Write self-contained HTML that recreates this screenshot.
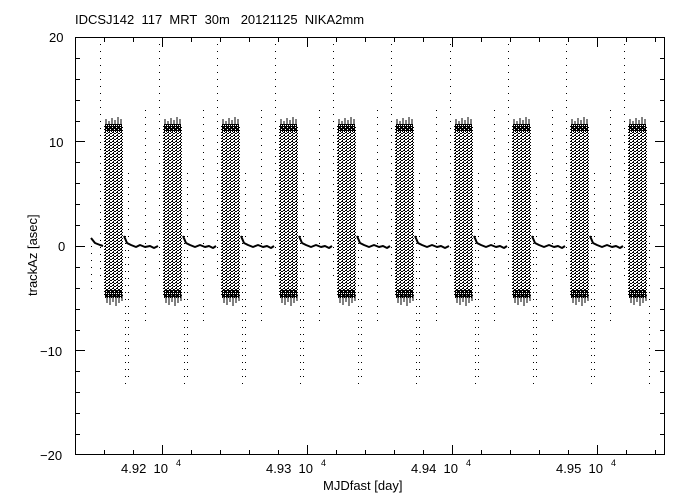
<!DOCTYPE html>
<html><head><meta charset="utf-8"><style>
html,body{margin:0;padding:0;background:#fff;width:686px;height:503px;overflow:hidden}
svg{display:block}
text{font-family:"Liberation Sans",sans-serif;font-size:13px;fill:#000}
</style></head><body>
<svg width="686" height="503" xmlns="http://www.w3.org/2000/svg">
<defs>
<pattern id="p1" width="4" height="3" patternUnits="userSpaceOnUse">
<rect x="0" y="0" width="2" height="1" fill="#000"/><rect x="2" y="1" width="2" height="1" fill="#000"/><rect x="1" y="2" width="1" height="1" fill="#000"/>
</pattern>
<pattern id="p2" width="2" height="2" patternUnits="userSpaceOnUse">
<rect x="0" y="0" width="2" height="1" fill="#000"/><rect x="1" y="1" width="1" height="1" fill="#000"/>
</pattern>
<g id="blk">
<rect x="0" y="126" width="19" height="170" fill="url(#p1)"/>
<rect x="1" y="124" width="17" height="8" fill="url(#p2)"/>
<path d="M2 124V119M5 124V121M8 124V118M11 124V120M14 124V117M17 124V119M3 294V303M6 294V305M9 294V302M12 294V306M15 294V303M18 294V301" stroke="#000" stroke-width="1"/>
<rect x="1" y="290" width="17" height="8" fill="url(#p2)"/>
</g>
</defs>
<rect x="0" y="0" width="686" height="503" fill="#fff"/>
<use href="#blk" x="104"/><use href="#blk" x="163"/><use href="#blk" x="221"/><use href="#blk" x="279"/><use href="#blk" x="337"/>
<use href="#blk" x="395"/><use href="#blk" x="454"/><use href="#blk" x="512"/><use href="#blk" x="570"/><use href="#blk" x="628"/>
<g stroke="#000" stroke-width="1" stroke-dasharray="1 6" fill="none">
<path d="M100.5 37V277M159.5 37V277M217.5 37V277M275.5 37V277M333.5 37V277M391.5 37V277M450.5 37V277M508.5 37V277M566.5 37V277M624.5 37V277"/>
<path d="M145.5 110V324M203.5 110V324M261.5 110V324M319.5 110V324M377.5 110V324M436.5 110V324M494.5 110V324M552.5 110V324M610.5 110V324"/>
<path d="M125.5 236V387M184.5 236V387M242.5 236V387M300.5 236V387M358.5 236V387M416.5 236V387M475.5 236V387M533.5 236V387M591.5 236V387M649.5 236V387"/>
<path d="M128.5 173V382M187.5 173V382M245.5 173V382M303.5 173V382M361.5 173V382M419.5 173V382M478.5 173V382M536.5 173V382M594.5 173V382"/>
<path d="M91.5 246V290"/>
</g>
<g stroke="#000" stroke-width="2" fill="none" stroke-linejoin="bevel">
<path d="M91 238L95 243L100 245L103 246"/>
<path d="M124 236L127 243L131 245L136 247L140 245L145 247L150 246L154 248L158 246"/>
<path d="M183 236L186 243L190 245L195 247L200 245L205 247L209 246L213 248L216 246"/>
<path d="M241 236L244 243L248 245L253 247L258 245L263 247L267 246L271 248L274 246"/>
<path d="M299 236L302 243L306 245L311 247L316 245L321 247L325 246L329 248L332 246"/>
<path d="M357 236L360 243L364 245L369 247L374 245L379 247L383 246L387 248L390 246"/>
<path d="M415 236L418 243L422 245L427 247L432 245L437 247L441 246L445 248L449 246"/>
<path d="M474 236L477 243L481 245L486 247L491 245L496 247L500 246L504 248L507 246"/>
<path d="M532 236L535 243L539 245L544 247L549 245L554 247L558 246L562 248L565 246"/>
<path d="M590 236L593 243L597 245L602 247L607 245L612 247L616 246L620 248L623 246"/>
</g>
<rect x="75.5" y="37.5" width="589" height="417" fill="none" stroke="#000" stroke-width="1"/>
<path stroke="#000" stroke-width="1" d="M75.5 455v-5M75.5 37v5M104.5 455v-5M104.5 37v5M133.5 455v-5M133.5 37v5M162.5 455v-10M162.5 37v10M191.5 455v-5M191.5 37v5M220.5 455v-5M220.5 37v5M249.5 455v-5M249.5 37v5M278.5 455v-5M278.5 37v5M307.5 455v-10M307.5 37v10M336.5 455v-5M336.5 37v5M365.5 455v-5M365.5 37v5M394.5 455v-5M394.5 37v5M423.5 455v-5M423.5 37v5M452.5 455v-10M452.5 37v10M481.5 455v-5M481.5 37v5M510.5 455v-5M510.5 37v5M539.5 455v-5M539.5 37v5M568.5 455v-5M568.5 37v5M597.5 455v-10M597.5 37v10M626.5 455v-5M626.5 37v5M655.5 455v-5M655.5 37v5
M75 37.5h10M665 37.5h-10M75 58.5h5M665 58.5h-5M75 79.5h5M665 79.5h-5M75 100.5h5M665 100.5h-5M75 121.5h5M665 121.5h-5M75 141.5h10M665 141.5h-10M75 162.5h5M665 162.5h-5M75 183.5h5M665 183.5h-5M75 204.5h5M665 204.5h-5M75 225.5h5M665 225.5h-5M75 246.5h10M665 246.5h-10M75 267.5h5M665 267.5h-5M75 288.5h5M665 288.5h-5M75 309.5h5M665 309.5h-5M75 330.5h5M665 330.5h-5M75 350.5h10M665 350.5h-10M75 371.5h5M665 371.5h-5M75 392.5h5M665 392.5h-5M75 413.5h5M665 413.5h-5M75 434.5h5M665 434.5h-5M75 454.5h10M665 454.5h-10"/>
<text x="75" y="24">IDCSJ142&#160; 117&#160; MRT&#160; 30m&#160; &#160;20121125&#160; NIKA2mm</text>
<text x="49" y="42">20</text>
<text x="49" y="147">10</text>
<text x="58" y="251">0</text>
<text x="40" y="356">−10</text>
<text x="40" y="460">−20</text>
<text x="121" y="473">4.92&#160; 10</text><text x="176" y="466" style="font-size:9px">4</text>
<text x="266" y="473">4.93&#160; 10</text><text x="321" y="466" style="font-size:9px">4</text>
<text x="411" y="473">4.94&#160; 10</text><text x="466" y="466" style="font-size:9px">4</text>
<text x="556" y="473">4.95&#160; 10</text><text x="611" y="466" style="font-size:9px">4</text>
<text x="323" y="490">MJDfast [day]</text>
<text transform="translate(37,296) rotate(-90)">trackAz [asec]</text>
</svg>
</body></html>
